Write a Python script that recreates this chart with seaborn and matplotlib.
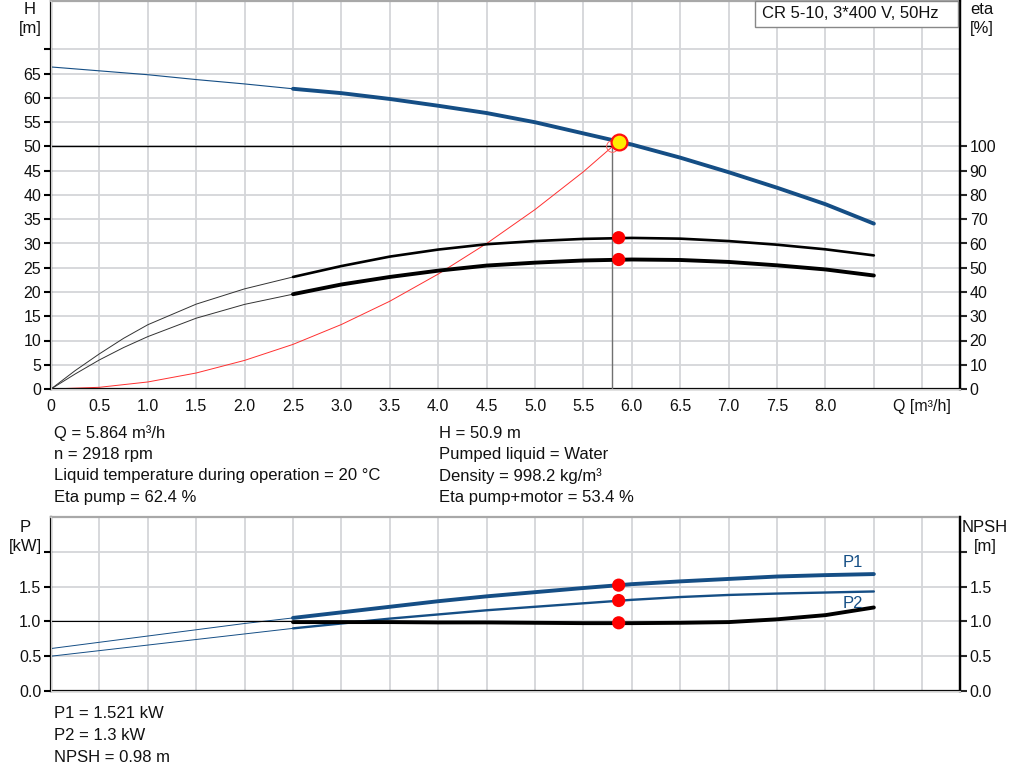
import numpy as np
import matplotlib
matplotlib.use('Agg')
import matplotlib.pyplot as plt
import seaborn as sns
from matplotlib.patches import Rectangle

# flow points (m3/h): thin section (extrapolated) and thick section (operating range)
q_thin = [0.0, 0.5, 1.0, 1.5, 2.0, 2.5]
q_thick = [2.5, 3.0, 3.5, 4.0, 4.5, 5.0, 5.5, 6.0, 6.5, 7.0, 7.5, 8.0, 8.5]
q_eta_thin = [0.0, 0.25, 0.5, 0.75, 1.0, 1.5, 2.0, 2.5]

# head H [m]
h_thin = [66.4, 65.6, 64.8, 63.8, 62.9, 61.9]
h_thick = [61.9, 61.0, 59.8, 58.4, 56.9, 55.0, 52.7, 50.4, 47.7, 44.7, 41.5, 38.1, 34.1]

# efficiency [%]
eta_pump_thin = [0.0, 7.6, 14.5, 20.9, 26.5, 35.0, 41.3, 46.2]
eta_pump_thick = [46.2, 50.7, 54.6, 57.5, 59.7, 61.0, 61.9, 62.3, 62.0, 61.0, 59.5, 57.6, 55.1]
eta_tot_thin = [0.0, 6.2, 12.0, 17.1, 21.6, 29.2, 34.9, 39.1]
eta_tot_thick = [39.1, 43.1, 46.2, 48.8, 50.9, 52.1, 53.0, 53.4, 53.2, 52.4, 51.0, 49.3, 46.8]

# system curve [m]
q_sys = [0.0, 0.5, 1.0, 1.5, 2.0, 2.5, 3.0, 3.5, 4.0, 4.5, 5.0, 5.5, 5.8]
h_sys = [0.0, 0.35, 1.45, 3.3, 5.9, 9.2, 13.3, 18.1, 23.7, 30.0, 37.0, 44.8, 50.0]

# power [kW] and NPSH [m]
p1_thin = [0.61, 0.70, 0.79, 0.88, 0.97, 1.05]
p1_thick = [1.05, 1.13, 1.21, 1.29, 1.36, 1.42, 1.48, 1.535, 1.575, 1.61, 1.645, 1.665, 1.68]
p2_thin = [0.50, 0.58, 0.66, 0.74, 0.82, 0.90]
p2_thick = [0.90, 0.97, 1.04, 1.10, 1.16, 1.21, 1.26, 1.31, 1.35, 1.38, 1.40, 1.415, 1.43]
npsh_thin = [1.0, 1.0, 1.0, 1.0, 1.0, 1.0]
npsh_thick = [0.99, 0.99, 0.99, 0.985, 0.985, 0.98, 0.975, 0.975, 0.98, 0.99, 1.03, 1.09, 1.20]

# duty point
q_op = 5.864
h_op = 50.9
eta_pump_op = 62.4
eta_tot_op = 53.4
p1_op = 1.521
p2_op = 1.3
npsh_op = 0.98
q_req = 5.8
h_req = 50.0

x_ticks = [0.0, 0.5, 1.0, 1.5, 2.0, 2.5, 3.0, 3.5, 4.0, 4.5, 5.0, 5.5, 6.0, 6.5, 7.0, 7.5, 8.0, 8.5, 9.0]
x_labels = ['0', '0.5', '1.0', '1.5', '2.0', '2.5', '3.0', '3.5', '4.0', '4.5', '5.0', '5.5',
            '6.0', '6.5', '7.0', '7.5', '8.0', '', 'Q [m³/h]']

sns.set_style('whitegrid')
plt.rcParams['font.family'] = ['Liberation Sans', 'DejaVu Sans']
plt.rcParams['font.size'] = 12

BLUE = '#154e85'
GRID = '#d4d6d9'
TXT = '#111111'
TICK_FS = 11.5
INFO_FS = 12
W, H = 1024, 781


def px(x0, y0, x1, y1):
    return [x0 / W, 1 - y1 / H, (x1 - x0) / W, (y1 - y0) / H]


def style_axes(ax, ymax):
    ax.set_xlim(0, 9.39)
    ax.set_ylim(0, ymax)
    ax.grid(True, color=GRID, lw=1.3)
    ax.set_axisbelow(True)
    for s in ['left', 'bottom', 'right']:
        ax.spines[s].set_color('black')
        ax.spines[s].set_linewidth(1.6)
    ax.spines['top'].set_color('#a8a8a8')
    ax.spines['top'].set_linewidth(1.6)
    ax.tick_params(axis='both', direction='out', length=5, width=1.5, color='black',
                   labelsize=TICK_FS, labelcolor=TXT, pad=2)
    ax.set_xlabel('')
    ax.set_ylabel('')


def style_right(axr):
    axr.grid(False)
    axr.spines['right'].set_color('black')
    axr.spines['right'].set_linewidth(1.6)
    axr.spines['top'].set_visible(False)
    axr.tick_params(axis='y', direction='out', length=5, width=1.5, labelsize=TICK_FS,
                    labelcolor=TXT, pad=2)
    axr.set_ylabel('')


fig = plt.figure(figsize=(10.24, 7.81), dpi=100)

# ---------------- top chart: H and eta ----------------
ax = fig.add_axes(px(51, 1, 960, 389))
sns.lineplot(x=q_thin, y=h_thin, ax=ax, color=BLUE, lw=0.8, sort=False, estimator=None)
sns.lineplot(x=q_thick, y=h_thick, ax=ax, color=BLUE, lw=2.8, sort=False, estimator=None)
sns.lineplot(x=q_sys, y=h_sys, ax=ax, color='#ff3030', lw=0.7, sort=False, estimator=None)
ax.plot([0, q_req], [h_req, h_req], color='black', lw=1.0, zorder=3)
ax.plot([q_req, q_req], [0, h_req], color='#707070', lw=1.0, zorder=3)
sns.scatterplot(x=[q_req], y=[h_req], ax=ax, s=70, facecolor='none', edgecolor='#ff6060',
                linewidth=0.7, zorder=4)
sns.scatterplot(x=[q_op], y=[h_op], ax=ax, s=130, color='#ffee00', edgecolor='#ff1010',
                linewidth=1.6, zorder=6)
style_axes(ax, 80)
ax.set_xticks(x_ticks)
ax.set_xticklabels(x_labels)
ax.set_yticks(np.arange(0, 71, 5))
ax.set_yticklabels([str(v) for v in range(0, 66, 5)] + [''])

ax_eta = ax.twinx()
sns.lineplot(x=q_eta_thin, y=eta_pump_thin, ax=ax_eta, color='#333333', lw=0.7, sort=False, estimator=None)
sns.lineplot(x=q_thick, y=eta_pump_thick, ax=ax_eta, color='black', lw=1.9, sort=False, estimator=None)
sns.lineplot(x=q_eta_thin, y=eta_tot_thin, ax=ax_eta, color='#333333', lw=0.7, sort=False, estimator=None)
sns.lineplot(x=q_thick, y=eta_tot_thick, ax=ax_eta, color='black', lw=2.8, sort=False, estimator=None)
sns.scatterplot(x=[q_op, q_op], y=[eta_pump_op, eta_tot_op], ax=ax_eta, s=90, color='#ff0000',
                edgecolor='none', zorder=5)
ax_eta.set_ylim(0, 160)
ax_eta.set_yticks(np.arange(0, 101, 10))
style_right(ax_eta)

# ---------------- bottom chart: P and NPSH ----------------
bx = fig.add_axes(px(51, 517, 960, 691))
sns.lineplot(x=q_thin, y=p1_thin, ax=bx, color=BLUE, lw=0.7, sort=False, estimator=None)
sns.lineplot(x=q_thick, y=p1_thick, ax=bx, color=BLUE, lw=2.8, sort=False, estimator=None)
sns.lineplot(x=q_thin, y=p2_thin, ax=bx, color=BLUE, lw=0.7, sort=False, estimator=None)
sns.lineplot(x=q_thick, y=p2_thick, ax=bx, color=BLUE, lw=1.7, sort=False, estimator=None)
sns.lineplot(x=q_thin, y=npsh_thin, ax=bx, color='black', lw=0.8, sort=False, estimator=None)
sns.lineplot(x=q_thick, y=npsh_thick, ax=bx, color='black', lw=2.8, sort=False, estimator=None)
sns.scatterplot(x=[q_op, q_op, q_op], y=[p1_op, p2_op, npsh_op], ax=bx, s=90, color='#ff0000',
                edgecolor='none', zorder=5)
style_axes(bx, 2.5)
bx.set_xticks(x_ticks)
bx.tick_params(axis='x', length=0, labelbottom=False)
bx.set_yticks([0.0, 0.5, 1.0, 1.5, 2.0])
bx.set_yticklabels(['0.0', '0.5', '1.0', '1.5', ''])
bx.text(8.28, 1.84, 'P1', color=BLUE, fontsize=INFO_FS, ha='center', va='center')
bx.text(8.28, 1.26, 'P2', color=BLUE, fontsize=INFO_FS, ha='center', va='center')

bx_n = bx.twinx()
bx_n.set_ylim(0, 2.5)
bx_n.set_yticks([0.0, 0.5, 1.0, 1.5, 2.0])
bx_n.set_yticklabels(['0.0', '0.5', '1.0', '1.5', ''])
style_right(bx_n)


# ---------------- labels and info text ----------------
def ftext(x, y, s, **kw):
    fig.text(x / W, 1 - y / H, s, fontsize=INFO_FS, color=TXT, va='center', **kw)


ftext(30, 19, 'H\n[m]', ha='center', linespacing=1.3)
ftext(982, 19, 'eta\n[%]', ha='center', linespacing=1.3)
ftext(25, 537, 'P\n[kW]', ha='center', linespacing=1.3)
ftext(985, 537, 'NPSH\n[m]', ha='center', linespacing=1.3)

fig.patches.append(Rectangle((755 / W, 1 - 27 / H), 203 / W, 26 / H, transform=fig.transFigure,
                             facecolor='white', edgecolor='#888888', lw=1.0, zorder=10))
fig.text(762 / W, 1 - 14 / H, 'CR 5-10, 3*400 V, 50Hz', fontsize=INFO_FS, color=TXT,
         va='center', ha='left', zorder=11)

left_info = ['Q = 5.864 m³/h', 'n = 2918 rpm', 'Liquid temperature during operation = 20 °C',
             'Eta pump = 62.4 %']
right_info = ['H = 50.9 m', 'Pumped liquid = Water', 'Density = 998.2 kg/m³',
              'Eta pump+motor = 53.4 %']
bottom_info = ['P1 = 1.521 kW', 'P2 = 1.3 kW', 'NPSH = 0.98 m']

for i, s in enumerate(left_info):
    ftext(54, 433 + i * 21.5, s, ha='left')
for i, s in enumerate(right_info):
    ftext(439, 433 + i * 21.5, s, ha='left')
for i, s in enumerate(bottom_info):
    ftext(54, 714 + i * 21.5, s, ha='left')

fig.savefig('out.png', dpi=100)
